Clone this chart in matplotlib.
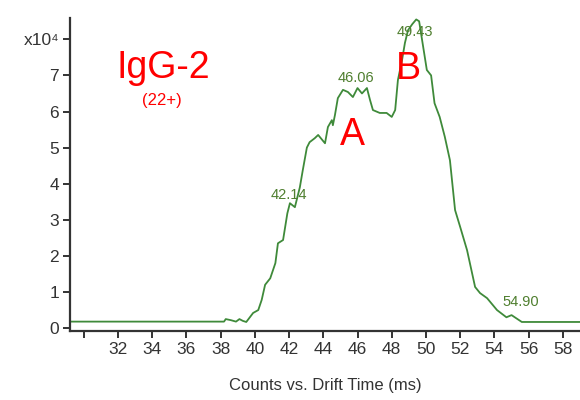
import numpy as np
import matplotlib
matplotlib.use("Agg")
import matplotlib.pyplot as plt

# Drift-time trace (ms) and counts (x10^4)
drift_ms = [29.2, 38.2, 38.3, 38.6, 38.9, 39.1, 39.3, 39.5, 39.9, 40.2, 40.4,
            40.6, 40.9, 41.2, 41.35, 41.65, 41.9, 42.05, 42.34, 42.63, 42.8,
            43.04, 43.2, 43.5, 43.7, 44.1, 44.27, 44.5, 44.56, 44.68, 44.85,
            45.15, 45.44, 45.73, 46.0, 46.26, 46.55, 46.73, 46.9, 47.3, 47.7,
            48.0, 48.2, 48.36, 48.6, 48.77, 48.95, 49.2, 49.43, 49.6, 49.8,
            50.05, 50.3, 50.5, 50.8, 51.1, 51.4, 51.7, 52.0, 52.4, 52.87,
            53.16, 53.57, 54.15, 54.7, 55.0, 55.6, 59.0]
counts = [0.18, 0.18, 0.25, 0.22, 0.18, 0.25, 0.2, 0.17, 0.42, 0.5, 0.78,
          1.2, 1.38, 1.8, 2.35, 2.44, 3.18, 3.46, 3.35, 3.9, 4.37,
          5.0, 5.15, 5.26, 5.35, 5.12, 5.57, 5.76, 5.62, 5.9, 6.37,
          6.6, 6.54, 6.4, 6.65, 6.5, 6.65, 6.32, 6.04, 5.96, 5.96,
          5.85, 6.04, 6.87, 7.42, 7.9, 8.25, 8.42, 8.55, 8.5, 7.9,
          7.15, 7.0, 6.23, 5.85, 5.3, 4.65, 3.27, 2.8, 2.16, 1.14,
          0.97, 0.83, 0.5, 0.3, 0.36, 0.17, 0.17]

peak_times = [42.14, 46.06, 49.43, 54.90]
peak_offsets = [(-2, 2), (-2, 3), (-1, -14), (8, 5)]

xticks = list(range(30, 60, 2))
xtick_labels = [""] + [str(t) for t in xticks[1:]]
yticks = list(range(0, 9))
ytick_labels = [str(t) for t in yticks[:-1]] + ["x10\u2074"]

font = ["Liberation Sans", "DejaVu Sans"]
line_green = "#3f8a3a"
label_green = "#4f7f2f"
W, H = 580, 400

fig = plt.figure(figsize=(5.8, 4.0), dpi=100)
ax = fig.add_axes([0.1207, 0.1725, 0.8793, 0.7825])

ax.plot(drift_ms, counts, color=line_green, lw=1.3)

for t, (dx, dy) in zip(peak_times, peak_offsets):
    y = np.interp(t, drift_ms, counts)
    ax.annotate(f"{t:.2f}", xy=(t, y), xytext=(dx, dy), textcoords="offset points",
                ha="center", va="bottom", color=label_green, fontsize=10.5,
                family=font)

ax.set_xlim(29.2, 59.0)
ax.set_ylim(-0.08, 8.59)
ax.set_xticks(xticks)
ax.set_xticklabels(xtick_labels)
ax.set_yticks(yticks)
ax.set_yticklabels(ytick_labels)
for lab in ax.get_xticklabels() + ax.get_yticklabels():
    lab.set_family(font)
    lab.set_fontsize(12.5)
    lab.set_color("#333333")

ax.spines["top"].set_visible(False)
ax.spines["right"].set_visible(False)
for side in ("left", "bottom"):
    ax.spines[side].set_linewidth(1.6)
    ax.spines[side].set_color("#333333")
ax.tick_params(axis="both", length=5, width=1.4, color="#333333", pad=3)

ax.set_xlabel("Counts vs. Drift Time (ms)", family=font, fontsize=12,
              color="#333333", labelpad=15)


def label_px(x, y, s, size):
    fig.text(x / W, 1 - y / H, s, color="red", fontsize=size, family=font,
             ha="center", va="center")


label_px(163, 68, "IgG-2", 27)
label_px(162, 101, "(22+)", 12)
label_px(352, 135, "A", 27)
label_px(408, 69, "B", 27)

fig.savefig("out.png", dpi=100)
